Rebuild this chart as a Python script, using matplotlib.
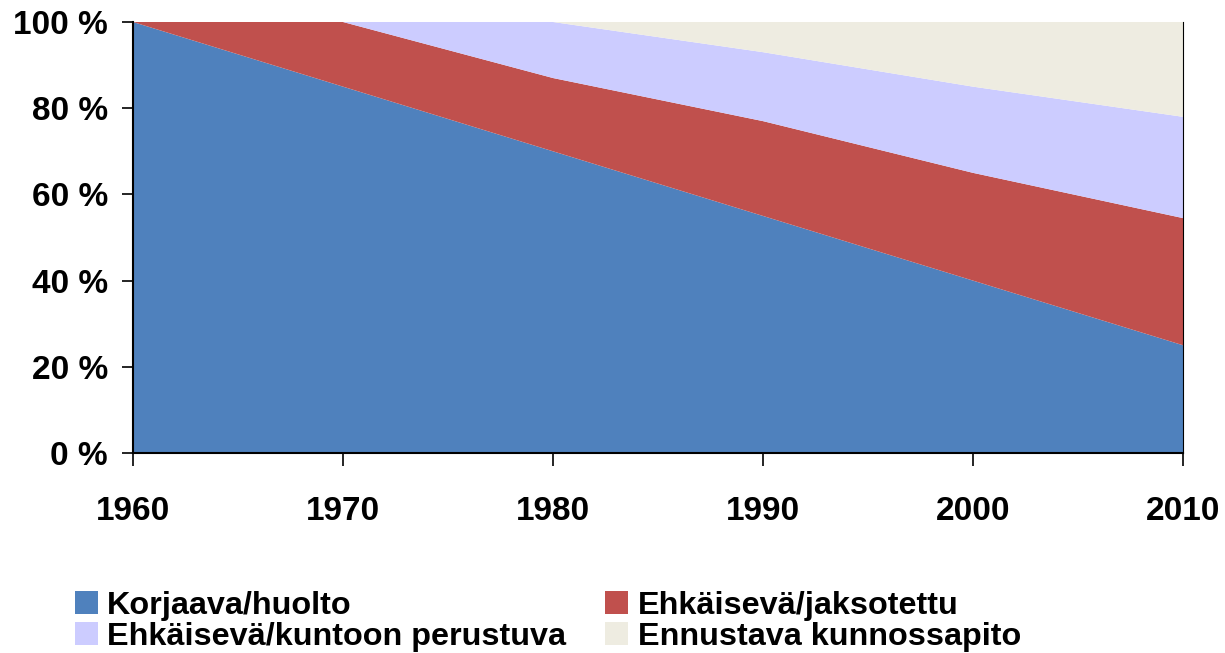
import matplotlib as mpl
mpl.use('Agg')
import matplotlib.pyplot as plt
from matplotlib.patches import Patch
from matplotlib.ticker import FuncFormatter

years = [1960, 1970, 1980, 1990, 2000, 2010]
korjaava = [100, 85, 70, 55, 40, 25]
jaksotettu = [0, 15, 17, 22, 25, 29.5]
kuntoon = [0, 0, 13, 16, 20, 23.5]
ennustava = [0, 0, 0, 7, 15, 22]

labels = ['Korjaava/huolto', 'Ehkäisevä/jaksotettu',
          'Ehkäisevä/kuntoon perustuva', 'Ennustava kunnossapito']
colors = ['#4F81BD', '#C0504D', '#CCCCFF', '#EEECE1']

plt.rcParams['font.family'] = ['Liberation Sans', 'DejaVu Sans']
plt.rcParams['font.weight'] = 'bold'

fig = plt.figure(figsize=(12.25, 6.53), dpi=100)
ax = fig.add_axes([133/1225, 1-453/653, 1050/1225, 431/653])

ax.stackplot(years, korjaava, jaksotettu, kuntoon, ennustava,
             colors=colors, linewidth=0)

ax.set_xlim(1960, 2010)
ax.set_ylim(0, 100)
ax.set_xticks(years)
ax.set_yticks([0, 20, 40, 60, 80, 100])
ax.yaxis.set_major_formatter(FuncFormatter(lambda v, p: f'{int(v)} %'))
ax.tick_params(axis='y', direction='out', length=8, width=1.2, pad=10, labelsize=24)
ax.tick_params(axis='x', direction='out', length=9, width=1.2, pad=22, labelsize=24)
for lab in ax.get_xticklabels() + ax.get_yticklabels():
    lab.set_fontweight('bold')

ax.spines['top'].set_visible(False)
ax.spines['left'].set_linewidth(1.5)
ax.spines['bottom'].set_linewidth(1.5)
ax.spines['right'].set_linewidth(0.8)

# legend is filled column by column, so reorder to read row-wise
order = [0, 2, 1, 3]
handles = [Patch(facecolor=colors[i], edgecolor='none') for i in order]
fig.legend(handles, [labels[i] for i in order], ncol=2, loc='upper left',
           bbox_to_anchor=(75/1225, 1-591/653), frameon=False,
           prop={'size': 23.3, 'weight': 'bold'},
           handlelength=0.7, handleheight=0.7, handletextpad=0.3,
           columnspacing=1.2, borderpad=0, borderaxespad=0, labelspacing=0.03)

fig.savefig('out.png', dpi=100)
